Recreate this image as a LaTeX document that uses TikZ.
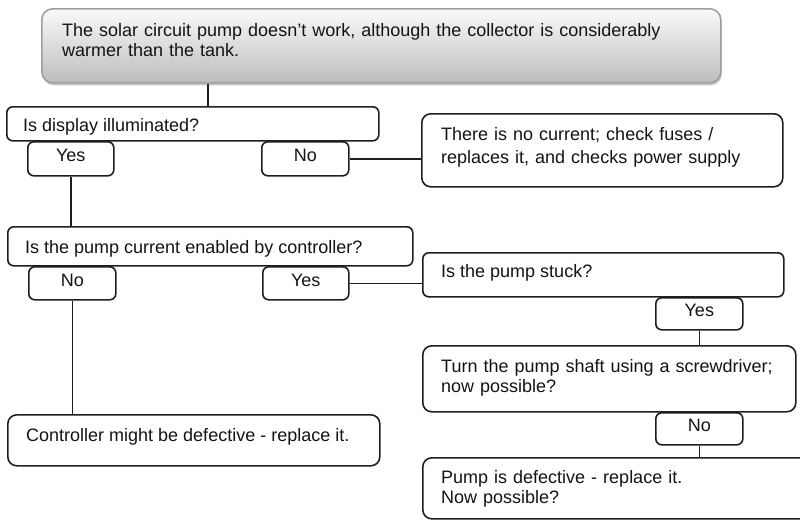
\documentclass[tikz,border=0pt]{standalone}
\usepackage{fontspec}
\setmainfont{Liberation Sans}
\usetikzlibrary{shadows}
\definecolor{ink}{HTML}{141414}
\definecolor{edge}{HTML}{1E1E1E}
\begin{document}
\begin{tikzpicture}[x=1pt,y=-1pt,
  box/.style={draw=edge, line width=1.6pt, rounded corners=6pt, fill=white,
    rectangle, inner sep=0pt, anchor=north west, text=ink,
    font=\fontsize{18}{20}\selectfont},
  ans/.style={box, text height=13pt, text depth=7pt},
  txt/.style={text=ink, inner sep=0pt, anchor=base west, align=left,
    font=\fontsize{18}{20}\selectfont},
  link/.style={draw=edge, line width=1.6pt}]
\useasboundingbox (0,0) rectangle (800,520);
% boxes
\node[box, draw=gray!75, rounded corners=11pt, top color=gray!4, bottom color=gray!52,
  drop shadow={shadow xshift=1pt, shadow yshift=-2.5pt, opacity=0.45},
  minimum width=679pt, minimum height=74pt] (q0) at (41,8) {};
\node[box, minimum width=372pt, minimum height=34pt] (d1) at (6,106) {};
\node[ans, minimum width=86pt, minimum height=34pt] (y1) at (27,141) {Yes};
\node[ans, minimum width=87pt, minimum height=34pt] (n1) at (261,141) {No};
\node[box, rounded corners=9pt, minimum width=361pt, minimum height=73pt] (r1) at (421,113) {};
\node[box, minimum width=405pt, minimum height=39pt] (d2) at (7,226) {};
\node[ans, minimum width=87pt, minimum height=33pt] (n2) at (28,266) {No};
\node[ans, minimum width=86pt, minimum height=33pt] (y2) at (262,266) {Yes};
\node[box, minimum width=361pt, minimum height=44pt] (d3) at (422,252) {};
\node[ans, text depth=8pt, minimum width=87pt, minimum height=32pt] (y3) at (655,297) {Yes};
\node[box, rounded corners=9pt, minimum width=373pt, minimum height=66pt] (d4) at (422,345) {};
\node[ans, text depth=8pt, minimum width=87pt, minimum height=32pt] (n4) at (655,412) {No};
\node[box, rounded corners=9pt, minimum width=400pt, minimum height=61pt] (r4) at (422,457) {};
\node[box, rounded corners=9pt, minimum width=372pt, minimum height=51pt] (r2) at (7,414) {};
% texts
\node[txt, text width=650pt] (q0t) at (62,36) {The solar circuit pump doesn’t work, although the collector is considerably\\warmer than the tank.};
\node[txt] (d1t) at (23,131) {Is display illuminated?};
\node[txt, text width=330pt] (r1t) at (441,140) {There is no current; check fuses /\\[3pt]replaces it, and checks power supply};
\node[txt] (d2t) at (25,253) {Is the pump current enabled by controller?};
\node[txt] (d3t) at (441,277) {Is the pump stuck?};
\node[txt, text width=350pt] (d4t) at (441,372) {Turn the pump shaft using a screwdriver;\\now possible?};
\node[txt, text width=350pt] (r4t) at (441,483) {Pump is defective - replace it.\\Now possible?};
\node[txt] (r2t) at (26,441) {Controller might be defective - replace it.};
% connectors
\path ([xshift=167pt]q0.south west) coordinate (c0);
\draw[link] (c0) -- (c0 |- d1.north);
\draw[link] (y1.south) -- (y1.south |- d2.north);
\draw[link] (n1.east) -- (n1.east -| r1.west);
\draw[link] (y2.east) -- (y2.east -| d3.west);
\draw[link] (n2.south) -- (n2.south |- r2.north);
\draw[link] (y3.south) -- (y3.south |- d4.north);
\draw[link] (n4.south) -- (n4.south |- r4.north);
\end{tikzpicture}
\end{document}
